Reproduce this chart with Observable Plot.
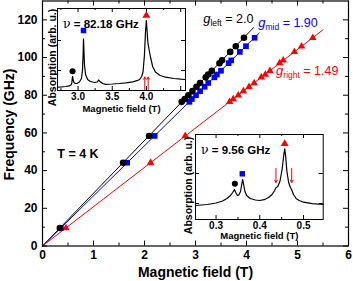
<!DOCTYPE html>
<html><head><meta charset="utf-8">
<script src="https://cdn.jsdelivr.net/npm/d3@7"></script>
<script src="https://cdn.jsdelivr.net/npm/@observablehq/plot@0.6"></script>
<style>
body{margin:0;background:#fff;}
#chart{position:relative;width:353px;height:281px;overflow:hidden;background:#fff;}
#chart svg{position:absolute;}
</style></head><body><div id="chart"></div>
<script>
const FONT = "'Liberation Sans', Arial, Helvetica, sans-serif";
const BLACK = "#000000", BLUE = "#0000ff", RED = "#ff0000";

// ---- main panel data (resonance field vs frequency) ----
const freqs      = [9.56, 44.2, 58.4, 76.5, 78.0, 80.0, 82.18, 84.5, 86.5, 89.5, 91.0, 93.0, 97.0, 98.5, 103.0, 106.0, 110.5];
const fieldLeft  = [0.34, 1.58, 2.09, 2.73, 2.79, 2.86, 2.94, 3.02, 3.09, 3.20, 3.25, 3.32, 3.47, 3.52, 3.68, 3.79, 3.95];
const fieldMid   = [0.36, 1.66, 2.20, 2.88, 2.93, 3.01, 3.09, 3.18, 3.25, 3.37, 3.42, 3.50, 3.65, 3.70, 3.87, 3.99, 4.16];
const fieldRight = [0.46, 2.12, 2.80, 3.67, 3.74, 3.84, 3.94, 4.05, 4.15, 4.29, 4.37, 4.46, 4.65, 4.72, 4.94, 5.08, 5.30];

// linear fits (through origin)
const fitLeftB  = [0, 4.14], fitLeftF  = [0, 115.9];
const fitMidB   = [0, 4.25], fitMidF   = [0, 113.0];
const fitRightB = [0, 5.50], fitRightF = [0, 114.7];

// ticks
const xMajor = [0, 1, 2, 3, 4, 5, 6];
const xMinor = [0.5, 1.5, 2.5, 3.5, 4.5, 5.5];
const yMajor = [0, 20, 40, 60, 80, 100, 120];
const yMinor = [10, 30, 50, 70, 90, 110];

// annotation anchors (data coords)
const gLabels = [
  {g: "g", sub: "left",  rest: " = 2.0",  x: 3.16, y: 117.9, color: BLACK},
  {g: "g", sub: "mid",   rest: " = 1.90", x: 4.24, y: 116.0, color: BLUE},
  {g: "g", sub: "right", rest: " = 1.49", x: 4.59, y: 90.3,  color: RED}
];
const tempLabel = ["T = 4 K"];
const tempX = [0.29], tempY = [49];

// ---- inset 1: spectrum at 82.18 GHz ----
const spec1Field = [2.70,2.76,2.82,2.87,2.90,2.91,2.915,2.92,2.925,2.93,2.94,2.96,2.99,3.02,3.05,3.065,3.075,3.08,3.085,3.095,3.11,3.14,3.18,3.24,3.28,3.30,3.32,3.36,3.40,3.50,3.60,3.70,3.80,3.86,3.90,3.93,3.95,3.97,3.985,3.998,4.01,4.02,4.04,4.06,4.09,4.13,4.20,4.28,4.40,4.50,4.57];
const spec1Abs   = [3.3,3.6,4.0,4.6,5.8,8.0,11.5,14.0,12.5,10.0,8.0,7.0,7.2,8.5,12.0,20.0,38.0,51.7,42.0,25.0,16.0,11.0,9.0,8.0,8.5,10.5,9.0,7.0,6.2,6.5,7.0,7.7,8.7,9.8,11.0,14.0,19.0,35.0,58.0,70.0,58.0,48.0,40.0,33.0,24.0,18.5,15.0,13.3,12.0,11.3,11.0];
const peak1Field = [2.92, 3.08, 3.998];
const peak1Abs   = [19.3, 60.0, 75.0];
const arrow1X = [3.975, 4.025], arrow1From = [0.5, 0.5], arrow1To = [13.5, 13.5];
const in1XMajor = [3.0, 3.5, 4.0, 4.5], in1XMinor = [2.75, 3.25, 3.75, 4.25], in1XLabels = [3.0, 3.5, 4.0];
const in1YTicks = [20, 50];

// ---- inset 2: spectrum at 9.56 GHz ----
const spec2Field = [0.253,0.28,0.30,0.315,0.325,0.333,0.338,0.342,0.345,0.349,0.352,0.356,0.359,0.361,0.363,0.366,0.370,0.378,0.39,0.40,0.41,0.42,0.428,0.434,0.437,0.441,0.446,0.451,0.455,0.457,0.459,0.462,0.466,0.470,0.473,0.477,0.483,0.49,0.50,0.52,0.545];
const spec2Abs   = [14.0,15.0,16.5,18.5,21.0,24.0,27.0,30.0,27.0,24.0,24.5,28.0,36.0,40.0,35.0,28.0,24.0,21.0,19.5,19.0,19.8,22.0,25.0,29.0,31.7,33.0,38.0,50.0,65.0,70.7,64.0,48.0,37.0,32.0,29.7,25.0,21.0,19.0,17.3,15.8,15.0];
const peak2Field = [0.343, 0.360, 0.457];
const peak2Abs   = [35.7, 45.7, 75.7];
const arrow2X = [0.437, 0.473], arrow2From = [51, 51], arrow2To = [37, 37];
const in2XMajor = [0.3, 0.4, 0.5], in2XMinor = [0.35, 0.45];
const in2YTicks = [16, 46];

const peakSymbols = ["circle", "square", "triangle"];
const peakColors = [BLACK, BLUE, RED];
const peakR = [2.7, 2.8, 2.6];

function innerTicks(xMaj, xMin, yMaj, yMin, iw, ih, L, l, sw) {
  const o = {stroke: BLACK, strokeWidth: sw};
  return [
    Plot.ruleX(xMaj, {...o, x: d => d, insetTop: ih - L}),
    Plot.ruleX(xMaj, {...o, x: d => d, insetBottom: ih - L}),
    Plot.ruleX(xMin, {...o, x: d => d, insetTop: ih - l}),
    Plot.ruleX(xMin, {...o, x: d => d, insetBottom: ih - l}),
    Plot.ruleY(yMaj, {...o, y: d => d, insetRight: iw - L}),
    Plot.ruleY(yMaj, {...o, y: d => d, insetLeft: iw - L}),
    Plot.ruleY(yMin, {...o, y: d => d, insetRight: iw - l}),
    Plot.ruleY(yMin, {...o, y: d => d, insetLeft: iw - l})
  ];
}

function richText(svg, x, y, parts, color) {
  const t = d3.select(svg).append("text")
    .attr("x", x).attr("y", y)
    .attr("fill", color)
    .attr("text-anchor", "start")
    .style("font-family", FONT);
  for (const p of parts) {
    const s = t.append("tspan").text(p.t);
    if (p.size) s.attr("font-size", p.size);
    if (p.weight) s.attr("font-weight", p.weight);
    if (p.style) s.attr("font-style", p.style);
    if (p.family) s.style("font-family", p.family);
    if (p.dy) s.attr("dy", p.dy);
  }
  return t;
}

const chart = document.getElementById("chart");

// ---------------- main plot ----------------
const W = 353, H = 281, mL = 42, mR = 5, mT = 0.5, mB = 35.5;
const iw = W - mL - mR, ih = H - mT - mB;
const main = Plot.plot({
  width: W, height: H,
  marginLeft: mL, marginRight: mR, marginTop: mT, marginBottom: mB,
  x: {domain: [0, 6]},
  y: {domain: [0, 130]},
  style: {fontFamily: FONT, background: "transparent", color: "black", overflow: "visible"},
  marks: [
    ...innerTicks(xMajor, xMinor, yMajor, yMinor, iw, ih, 5, 3, 1),
    Plot.axisX({ticks: xMajor, tickSize: 0, tickPadding: 4.5, tickFormat: d3.format("d"), fontSize: 12, fontWeight: "bold", label: null}),
    Plot.axisY({ticks: yMajor, tickSize: 0, tickPadding: 5, tickFormat: d3.format("d"), fontSize: 12, fontWeight: "bold", label: null}),
    Plot.line(fitLeftB, {x: fitLeftB, y: fitLeftF, stroke: BLACK, strokeWidth: 1}),
    Plot.line(fitMidB, {x: fitMidB, y: fitMidF, stroke: BLUE, strokeWidth: 1}),
    Plot.line(fitRightB, {x: fitRightB, y: fitRightF, stroke: RED, strokeWidth: 1}),
    Plot.dot(freqs, {x: fieldRight, y: freqs, symbol: "triangle", fill: RED, r: 2.8}),
    Plot.dot(freqs, {x: fieldMid, y: freqs, symbol: "square", fill: BLUE, r: 3.2}),
    Plot.dot(freqs, {x: fieldLeft, y: freqs, symbol: "circle", fill: BLACK, r: 3.3}),
    Plot.text(tempLabel, {x: tempX, y: tempY, text: d => d, textAnchor: "start", fontSize: 12.5, fontWeight: "bold", fill: BLACK}),
    Plot.text(["Magnetic field (T)"], {frameAnchor: "bottom", textAnchor: "middle", lineAnchor: "middle", dy: 27, fontSize: 14, fontWeight: "bold", fill: BLACK}),
    Plot.text(["Frequency (GHz)"], {frameAnchor: "left", textAnchor: "middle", lineAnchor: "middle", dx: -32.5, dy: 1, rotate: -90, fontSize: 14, fontWeight: "bold", fill: BLACK}),
    Plot.frame({stroke: BLACK, strokeWidth: 1.2})
  ]
});
main.style.left = "0px"; main.style.top = "0px";
chart.appendChild(main);
{
  const sx = main.scale("x"), sy = main.scale("y");
  for (const g of gLabels) {
    richText(main, sx.apply(g.x), sy.apply(g.y), [
      {t: g.g, style: "italic", size: 13},
      {t: g.sub, size: 8.5, dy: 3},
      {t: g.rest, size: 12.5, dy: -3}
    ], g.color);
  }
}

// ---------------- inset builder ----------------
function inset(opts) {
  const {left, top, width, height, mL, mR, mT, mB, xDomain, yDomain, field, abs, pF, pA, aX, aFrom, aTo,
         xMaj, xMin, xLab, yT, fmt, nu, labelDy, yLabelDx, yLabelDy, tickPad} = opts;
  const w = width - mL - mR, h = height - mT - mB;
  const p = Plot.plot({
    width, height, marginLeft: mL, marginRight: mR, marginTop: mT, marginBottom: mB,
    x: {domain: xDomain}, y: {domain: yDomain, axis: null},
    style: {fontFamily: FONT, background: "transparent", color: "black", overflow: "visible"},
    marks: [
      Plot.frame({fill: "white", stroke: null}),
      ...innerTicks(xMaj, xMin, yT, [], w, h, 4, 2, 1),
      Plot.axisX({ticks: xLab, tickSize: 0, tickPadding: tickPad, tickFormat: fmt, fontSize: 10, fontWeight: "bold", label: null}),
      Plot.line(field, {x: field, y: abs, stroke: BLACK, strokeWidth: 1.2}),
      Plot.dot(pF, {x: pF, y: pA, symbol: peakSymbols, fill: peakColors, r: peakR}),
      Plot.arrow(aX, {x1: aX, x2: aX, y1: aFrom, y2: aTo, stroke: RED, strokeWidth: 1, headLength: 4}),
      Plot.text(["Magnetic field (T)"], {frameAnchor: "bottom", textAnchor: "middle", lineAnchor: "middle", dy: labelDy, fontSize: 9.5, fontWeight: "bold", fill: BLACK}),
      Plot.text(["Absorption (arb. u.)"], {frameAnchor: "left", textAnchor: "middle", lineAnchor: "middle", dx: yLabelDx, dy: yLabelDy, rotate: -90, fontSize: 10.5, fontWeight: "bold", fill: BLACK}),
      Plot.frame({stroke: BLACK, strokeWidth: 1})
    ]
  });
  p.style.left = left + "px"; p.style.top = top + "px";
  chart.appendChild(p);
  richText(p, mL + 6, mT + 19.5, [
    {t: "ν", size: 12.5, weight: "normal", family: "'DejaVu Serif', serif"},
    {t: " = " + nu + " GHz", size: 11.5, weight: "bold"}
  ], BLACK);
  return p;
}

inset({left: 40, top: 0, width: 150, height: 116, mL: 17, mR: 5, mT: 8, mB: 26,
  xDomain: [2.7, 4.57], yDomain: [0, 82], field: spec1Field, abs: spec1Abs,
  pF: peak1Field, pA: peak1Abs, aX: arrow1X, aFrom: arrow1From, aTo: arrow1To,
  xMaj: in1XMajor, xMin: in1XMinor, xLab: in1XLabels, yT: in1YTicks, fmt: d3.format(".1f"),
  nu: "82.18", labelDy: 18.5, yLabelDx: -5, yLabelDy: 8, tickPad: 2.5});

inset({left: 180, top: 128, width: 148, height: 115, mL: 15, mR: 5.3, mT: 6, mB: 24,
  xDomain: [0.253, 0.545], yDomain: [0, 85], field: spec2Field, abs: spec2Abs,
  pF: peak2Field, pA: peak2Abs, aX: arrow2X, aFrom: arrow2From, aTo: arrow2To,
  xMaj: in2XMajor, xMin: in2XMinor, xLab: in2XMajor, yT: in2YTicks, fmt: d3.format(".1f"),
  nu: "9.56", labelDy: 16.5, yLabelDx: -7, yLabelDy: 8.5, tickPad: 2.5});
</script></body></html>
